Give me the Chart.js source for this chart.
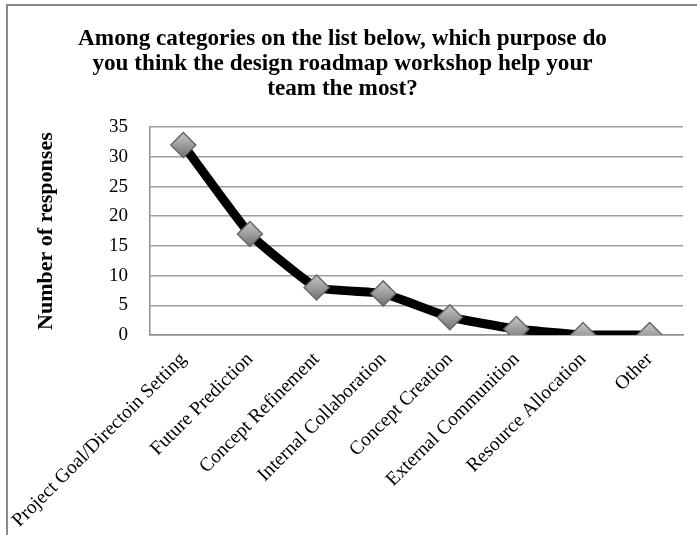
<!DOCTYPE html>
<html>
<head>
<meta charset="utf-8">
<script src="https://cdn.jsdelivr.net/npm/chart.js@4/dist/chart.umd.min.js"></script>
<style>
  html, body { margin: 0; padding: 0; background: #fff; }
  #frame {
    position: absolute; left: 6px; top: 4px; width: 720px; height: 560px;
    border: 2px solid #8a8a8a; box-sizing: border-box;
  }
  #wrap { position: absolute; left: 0; top: 0; width: 697px; height: 535px; }
</style>
</head>
<body>
<div id="frame"></div>
<div id="wrap"><canvas id="roadmapChart"></canvas></div>
<script>
// values
const titleLines = [
    'Among categories on the list below, which purpose do',
    'you think the design roadmap workshop help your',
    'team the most?'
];
const categories = [
    'Project Goal/Directoin Setting',
    'Future Prediction',
    'Concept Refinement',
    'Internal Collaboration',
    'Concept Creation',
    'External Communition',
    'Resource Allocation',
    'Other'
];
const responses = [32, 17, 8, 7, 3, 1, 0, 0];
const yTitle = 'Number of responses';
const yMin = 0;
const yMax = 35;
const yStep = 5;

const SERIF = "'Liberation Serif', 'DejaVu Serif', serif";

// grey diamond with a top-to-bottom shade, like the office marker
function markerFill(c) {
    const chart = c.chart;
    const ys = chart.scales && chart.scales.y;
    if (c.type !== 'data' || !ys) return '#9a9a9a';
    const y = ys.getPixelForValue(c.raw);
    if (!isFinite(y)) return '#9a9a9a';
    const g = chart.ctx.createLinearGradient(0, y - 12, 0, y + 12);
    g.addColorStop(0, '#c6c6c6');
    g.addColorStop(1, '#747474');
    return g;
}

const ctx = document.getElementById('roadmapChart').getContext('2d');
new Chart(ctx, {
    type: 'line',
    data: {
        labels: categories,
        datasets: [{
            label: yTitle,
            data: responses,
            borderColor: '#000',
            borderWidth: 9,
            borderJoinStyle: 'round',
            tension: 0.12,
            fill: false,
            pointStyle: 'rectRot',
            pointRadius: 12.5,
            pointHoverRadius: 12.5,
            pointBackgroundColor: markerFill,
            pointBorderColor: '#686868',
            pointBorderWidth: 1.5,
        }]
    },
    options: {
        responsive: true,
        maintainAspectRatio: false,
        animation: false,
        layout: { padding: { left: 0, right: 12, top: 0, bottom: 0 } },
        plugins: {
            legend: { display: false },
            tooltip: { enabled: false },
            title: {
                display: true,
                text: titleLines,
                color: '#000',
                font: { family: SERIF, size: 23.2, weight: 'bold', lineHeight: 1.08 },
                padding: { top: 26, bottom: 26 }
            }
        },
        scales: {
            x: {
                offset: true,
                grid: { display: true, color: 'transparent', drawTicks: false },
                border: { display: true, color: '#8f8f8f', width: 1.5 },
                ticks: {
                    autoSkip: false,
                    maxRotation: 45,
                    minRotation: 45,
                    padding: 13,
                    color: '#000',
                    font: { family: SERIF, size: 19.5 }
                },
                afterFit: (scale) => {
                    scale.height = 200;
                    // long rotated labels may hang past the left edge, as in the original
                    scale.paddingLeft = 0;
                    scale.paddingRight = 0;
                }
            },
            y: {
                min: yMin,
                max: yMax,
                grid: { color: '#9e9e9e', lineWidth: 1.5, drawTicks: false },
                border: { display: true, color: '#8f8f8f', width: 1.5 },
                ticks: {
                    stepSize: yStep,
                    padding: 22,
                    color: '#000',
                    font: { family: SERIF, size: 19 }
                },
                title: {
                    display: true,
                    text: yTitle,
                    color: '#000',
                    font: { family: SERIF, size: 22, weight: 'bold' },
                    padding: { top: 33, bottom: 0 }
                },
                afterFit: (scale) => { scale.width = 150; }
            }
        }
    }
});
</script>
</body>
</html>
